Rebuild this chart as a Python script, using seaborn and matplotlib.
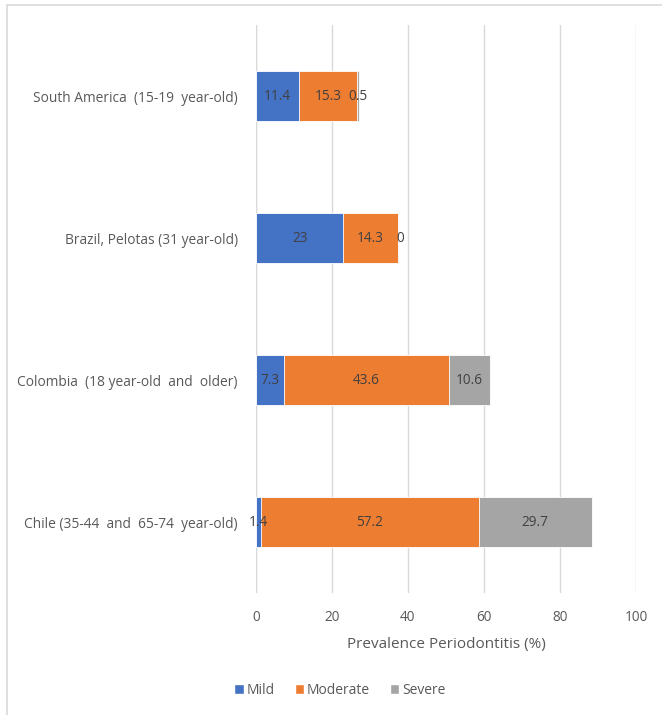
import matplotlib
matplotlib.use("Agg")
import matplotlib.pyplot as plt
import seaborn as sns
import numpy as np
import pandas as pd
from matplotlib.patches import Rectangle, Patch

categories = ["South America  (15-19  year-old)", "Brazil, Pelotas (31 year-old)",
              "Colombia  (18 year-old  and  older)", "Chile (35-44  and  65-74  year-old)"]
mild = [11.4, 23, 7.3, 1.4]
moderate = [15.3, 14.3, 43.6, 57.2]
severe = [0.5, 0, 10.6, 29.7]
series_names = ["Mild", "Moderate", "Severe"]
colors = ["#4472C4", "#ED7D31", "#A5A5A5"]
xticks = [0, 20, 40, 60, 80, 100]

sns.set_theme(style="white")
plt.rcParams["font.family"] = ["Open Sans", "DejaVu Sans"]
text_color = "#595959"

df = pd.DataFrame({"cat": categories, "Mild": mild, "Moderate": moderate, "Severe": severe})
df["c1"] = df["Mild"]
df["c2"] = df["Mild"] + df["Moderate"]
df["c3"] = df["c2"] + df["Severe"]

fig = plt.figure(figsize=(6.62, 7.15), dpi=100)
ax = fig.add_axes([256/662, 1-593/715, 380/662, 568/715])

for col, c in zip(["c3", "c2", "c1"], colors[::-1]):
    sns.barplot(data=df, y="cat", x=col, orient="h", color=c, width=0.352,
                edgecolor="white", linewidth=0.6, saturation=1, ax=ax, order=categories)

# labels
for i, row in df.iterrows():
    starts = [0, row["c1"], row["c2"]]
    vals = [row["Mild"], row["Moderate"], row["Severe"]]
    for s, v in zip(starts, vals):
        txt = f"{v:g}"
        ax.text(s + v/2 + (0.6 if v == 0 else 0), i, txt, ha="center", va="center",
                fontsize=9.8, color="#404040")

ax.set_xlim(0, 100)
ax.set_ylim(3.5, -0.5)
ax.set_xticks(xticks)
ax.set_xticklabels([str(t) for t in xticks], fontsize=9.8, color=text_color)
ax.tick_params(axis="x", length=0, pad=12)
ax.tick_params(axis="y", length=0, pad=13, labelsize=9.9, labelcolor=text_color)
ax.set_ylabel("")
ax.set_xlabel("Prevalence Periodontitis (%)", fontsize=11, color=text_color, labelpad=9)
ax.grid(axis="x", color="#D9D9D9", linewidth=1)
ax.set_axisbelow(True)
for s in ax.spines.values():
    s.set_visible(False)
ax.axvline(0, color="#D9D9D9", linewidth=1, zorder=0.5)

handles = [Patch(facecolor=c, label=n) for c, n in zip(colors, series_names)]
fig.legend(handles=handles, loc="center", bbox_to_anchor=(340/662, 1-690/715), ncol=3,
           frameon=False, fontsize=10, handlelength=0.7, handleheight=0.7,
           handletextpad=0.2, columnspacing=1.4, labelcolor=text_color)

fig.patches.append(Rectangle((6.5/662, -0.1), 1.2, 1-5.5/715+0.1, transform=fig.transFigure,
                             fill=False, edgecolor="#D9D9D9", linewidth=1.2))

fig.savefig("out.png", dpi=100)
